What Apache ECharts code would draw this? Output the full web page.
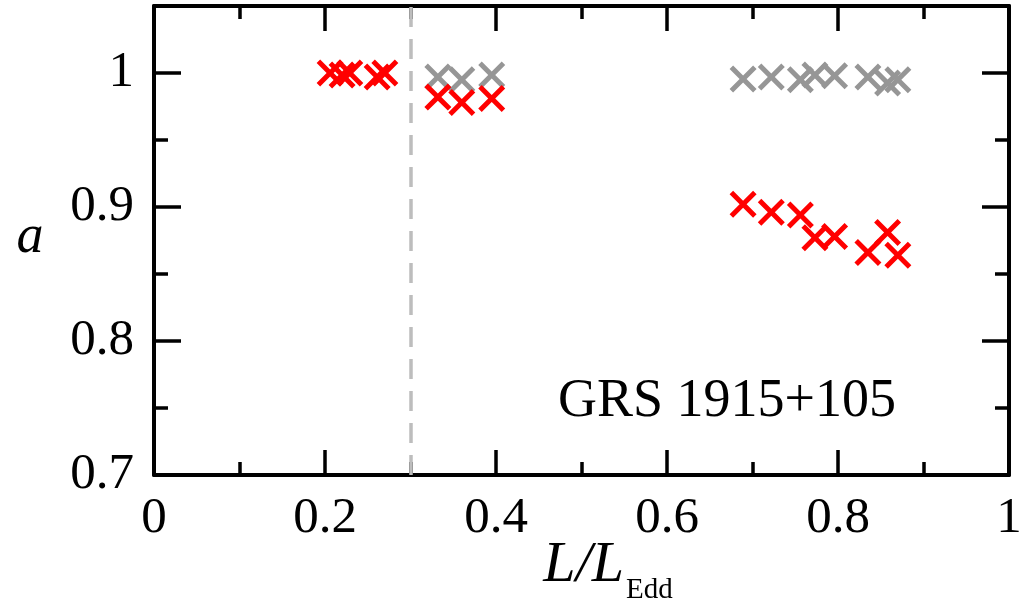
<!DOCTYPE html>
<html><head><meta charset="utf-8">
<script src="https://cdn.jsdelivr.net/npm/echarts@6/dist/echarts.min.js"></script>
<style>html,body{margin:0;padding:0;background:#fff}#c{width:1026px;height:610px}</style>
</head><body><div id="c"></div>
<script>
// Data
const redX  = [0.206, 0.220, 0.229, 0.261, 0.270, 0.332, 0.360, 0.395, 0.689, 0.722, 0.756, 0.773, 0.796, 0.835, 0.858, 0.870];
const redY  = [1.000, 0.9985, 1.000, 0.997, 1.000, 0.982, 0.978, 0.981, 0.902, 0.896, 0.894, 0.877, 0.878, 0.866, 0.881, 0.864];
const grayX = [0.332, 0.360, 0.395, 0.689, 0.722, 0.756, 0.773, 0.796, 0.835, 0.858, 0.870];
const grayY = [0.997, 0.995, 0.9985, 0.9955, 0.997, 0.995, 0.9985, 0.998, 0.997, 0.9925, 0.995];
const xTickLabels = ['0', '0.2', '0.4', '0.6', '0.8', '1'];
const yTickLabels = ['0.7', '0.8', '0.9', '1'];
const dividerX = 0.3;
const annotation = 'GRS 1915+105';

const FONT = '"Liberation Serif", "Times New Roman", serif';
const crossPath = 'path://M0,1.3L1.3,0L5,3.7L8.7,0L10,1.3L6.3,5L10,8.7L8.7,10L5,6.3L1.3,10L0,8.7L3.7,5Z';
const gridPos = {left: 154, right: 17, top: 6, bottom: 135};

function pair(xs, ys) { return xs.map((x, i) => [x, ys[i]]); }
function labelFor(list, step, start) {
  return function (v) {
    const idx = Math.round((v - start) / step);
    if (Math.abs(v - (start + idx * step)) > 1e-6) return '';
    return list[idx] !== undefined ? list[idx] : '';
  };
}

const axisLineStyle = {show: true, onZero: false, lineStyle: {color: '#000', width: 4}};
function xAx(gridIndex, position, interval, len, labels) {
  return {
    type: 'value', gridIndex, position, min: 0, max: 1, interval,
    axisLine: gridIndex === 0 ? axisLineStyle : {show: false, onZero: false},
    axisTick: {show: true, inside: true, length: len, lineStyle: {color: '#000', width: 3.5}},
    axisLabel: labels ? {show: true, margin: 18, fontFamily: FONT, fontSize: 51, color: '#000',
      formatter: labelFor(xTickLabels, 0.2, 0), showMinLabel: true, showMaxLabel: true} : {show: false},
    splitLine: {show: false}
  };
}
function yAx(gridIndex, position, interval, len, labels) {
  return {
    type: 'value', gridIndex, position, min: 0.7, max: 1.05, interval,
    axisLine: gridIndex === 0 ? axisLineStyle : {show: false, onZero: false},
    axisTick: {show: true, inside: true, length: len, lineStyle: {color: '#000', width: 3.5}},
    axisLabel: labels ? {show: true, margin: 20, fontFamily: FONT, fontSize: 51, color: '#000',
      formatter: labelFor(yTickLabels, 0.1, 0.7)} : {show: false},
    splitLine: {show: false}
  };
}

const chart = echarts.init(document.getElementById('c'), null, {renderer: 'canvas'});
chart.setOption({
  backgroundColor: '#fff',
  animation: false,
  grid: [Object.assign({}, gridPos), Object.assign({}, gridPos)],
  xAxis: [
    xAx(0, 'bottom', 0.2, 25, true),
    xAx(0, 'top', 0.2, 25, false),
    xAx(1, 'bottom', 0.1, 13, false),
    xAx(1, 'top', 0.1, 13, false)
  ],
  yAxis: [
    yAx(0, 'left', 0.1, 27, true),
    yAx(0, 'right', 0.1, 27, false),
    yAx(1, 'left', 0.05, 14, false),
    yAx(1, 'right', 0.05, 14, false)
  ],
  series: [
    {
      type: 'scatter', xAxisIndex: 0, yAxisIndex: 0,
      data: pair(grayX, grayY),
      symbol: crossPath, symbolSize: 27,
      itemStyle: {color: '#969696', opacity: 1},
      markLine: {
        silent: true, symbol: 'none', label: {show: false},
        lineStyle: {color: '#bdbdbd', width: 3.5, type: [20, 12], opacity: 1},
        data: [{xAxis: dividerX}]
      },
      z: 2
    },
    {
      type: 'scatter', xAxisIndex: 0, yAxisIndex: 0,
      data: pair(redX, redY),
      symbol: crossPath, symbolSize: 27,
      itemStyle: {color: '#ff0000', opacity: 1},
      z: 3
    }
  ],
  graphic: [
    {type: 'text', x: 30, y: 238, style: {text: 'a', font: 'italic 54px ' + FONT, fill: '#000', align: 'center', verticalAlign: 'middle'}},
    {type: 'text', x: 624, y: 566, style: {text: 'L/L', font: 'italic 58px ' + FONT, fill: '#000', align: 'right', verticalAlign: 'middle'}},
    {type: 'text', x: 626, y: 590, style: {text: 'Edd', font: '29px ' + FONT, fill: '#000', align: 'left', verticalAlign: 'middle'}},
    {type: 'text', x: 727, y: 402, style: {text: annotation, font: '54px ' + FONT, fill: '#000', align: 'center', verticalAlign: 'middle'}}
  ]
});
</script>
</body></html>
